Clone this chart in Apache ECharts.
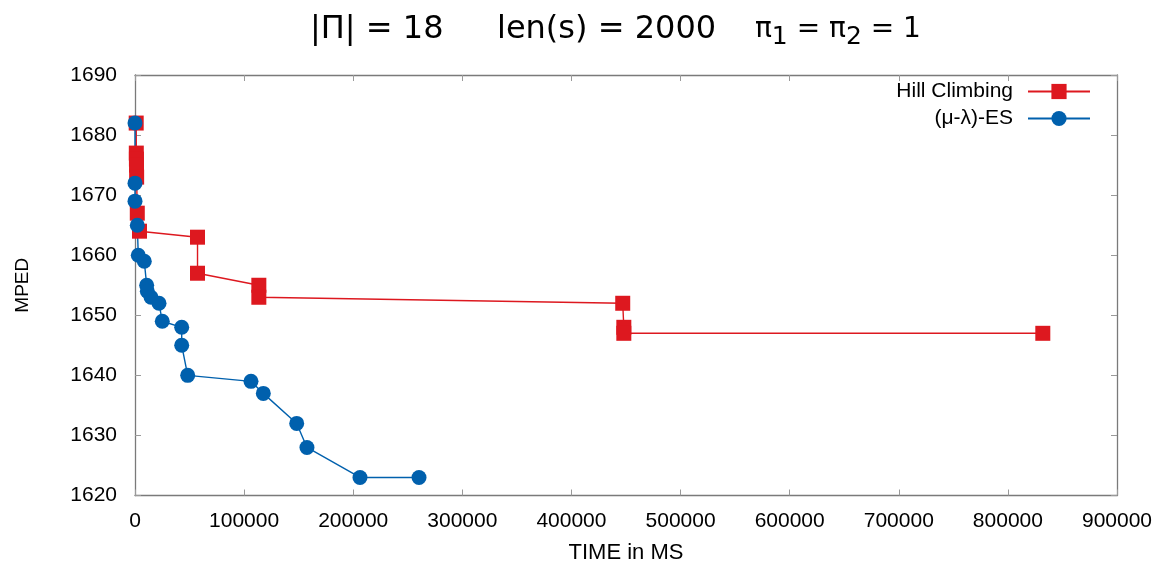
<!DOCTYPE html>
<html>
<head>
<meta charset="utf-8">
<script src="https://cdn.jsdelivr.net/npm/echarts@6/dist/echarts.min.js"></script>
<style>
  html, body { margin: 0; padding: 0; background: #ffffff; }
  #chart { width: 1160px; height: 564px; }
</style>
</head>
<body>
<div id="chart"></div>
<script>
// Hill Climbing: elapsed time (ms) and MPED of each improvement
const hillTime = [1100, 1200, 1300, 1400, 1500, 2100, 4100, 57300, 57300, 113500, 113500, 447000, 448000, 448000, 832000];
const hillMped = [1682, 1677, 1676, 1675, 1673, 1667, 1664, 1663, 1657, 1655, 1653, 1652, 1648, 1647, 1647];

// (mu-lambda)-ES: elapsed time (ms) and MPED of each improvement
const esTime = [0, 0, 0, 2100, 3000, 8500, 10700, 11300, 14700, 22000, 25000, 42800, 42800, 48300, 106300, 117600, 148200, 157600, 206200, 260300];
const esMped = [1682, 1672, 1669, 1665, 1660, 1659, 1655, 1654, 1653, 1652, 1649, 1648, 1645, 1640, 1639, 1637, 1632, 1628, 1623, 1623];

// Axis ranges and tick steps
const xRange = [0, 900000], xStep = 100000;
const yRange = [1620, 1690], yStep = 10;

const seriesNames = ['Hill Climbing', '(\u03bc-\u03bb)-ES'];
const xTitle = 'TIME in MS';
const yTitle = 'MPED';

const pairs = (xs, ys) => xs.map((x, i) => [x, ys[i]]);
const plain = v => String(v);

const frameColor = '#7a7a7a';
const tickColor = '#9a9a9a';
const labelFont = { color: '#000', fontSize: 21, fontFamily: 'Liberation Sans, Arial, sans-serif' };
const titleFont = { fontWeight: 'normal', fontFamily: 'DejaVu Sans, sans-serif', color: '#000', lineHeight: 42 };

const chart = echarts.init(document.getElementById('chart'), null, { renderer: 'canvas' });

const baseX = {
  type: 'value', min: xRange[0], max: xRange[1], interval: xStep,
  splitLine: { show: false },
  axisLine: { show: true, onZero: false, lineStyle: { color: frameColor, width: 1.3 } },
  axisTick: { show: true, inside: true, length: 6, lineStyle: { color: tickColor } }
};
const baseY = {
  type: 'value', min: yRange[0], max: yRange[1], interval: yStep,
  splitLine: { show: false },
  axisLine: { show: true, onZero: false, lineStyle: { color: frameColor, width: 1.3 } },
  axisTick: { show: true, inside: true, length: 6, lineStyle: { color: tickColor } }
};

chart.setOption({
  animation: false,
  backgroundColor: '#ffffff',
  title: {
    // three title parts, each given its own slot width
    text: '{p|\u007c\u03a0\u007c = 18}{q|len(s) = 2000}{a|\u03c0}{s|1}{a| = \u03c0}{s|2}{a| = 1}',
    left: 310,
    top: 9,
    padding: 0,
    textAlign: 'left',
    textStyle: {
      fontWeight: 'normal',
      rich: {
        p: Object.assign({ fontSize: 32, width: 187 }, titleFont),
        q: Object.assign({ fontSize: 32, width: 258 }, titleFont),
        a: Object.assign({ fontSize: 28 }, titleFont),
        s: Object.assign({ fontSize: 25, padding: [15, 0, 0, 0] }, titleFont)
      }
    }
  },
  legend: {
    data: seriesNames,
    orient: 'vertical',
    right: 64,
    top: 76,
    align: 'right',
    itemWidth: 62,
    itemHeight: 19,
    itemGap: 6,
    textStyle: Object.assign({}, labelFont, { padding: [0, 10, 0, 0] })
  },
  grid: { left: 135, right: 43, top: 75, bottom: 68.5, containLabel: false, outerBoundsMode: 'none' },
  xAxis: [
    Object.assign({}, baseX, {
      position: 'bottom',
      axisLabel: Object.assign({}, labelFont, { margin: 15, formatter: plain }),
      name: xTitle, nameLocation: 'middle', nameGap: 46,
      nameTextStyle: Object.assign({}, labelFont, { fontSize: 22 })
    }),
    Object.assign({}, baseX, { position: 'top', axisLabel: { show: false } })
  ],
  yAxis: [
    Object.assign({}, baseY, {
      position: 'left',
      axisLabel: Object.assign({}, labelFont, { margin: 18, formatter: plain }),
      name: yTitle, nameLocation: 'middle', nameGap: 103,
      nameTextStyle: Object.assign({}, labelFont, { fontSize: 19 })
    }),
    Object.assign({}, baseY, { position: 'right', axisLabel: { show: false } })
  ],
  series: [
    {
      name: seriesNames[0], type: 'line', xAxisIndex: 0, yAxisIndex: 0,
      data: pairs(hillTime, hillMped),
      symbol: 'rect', symbolSize: 15, showAllSymbol: true, clip: false,
      lineStyle: { color: '#dd181f', width: 1.4 },
      itemStyle: { color: '#dd181f' }
    },
    {
      name: seriesNames[1], type: 'line', xAxisIndex: 0, yAxisIndex: 0,
      data: pairs(esTime, esMped),
      symbol: 'circle', symbolSize: 15, showAllSymbol: true, clip: false,
      lineStyle: { color: '#0060ad', width: 1.4 },
      itemStyle: { color: '#0060ad' }
    }
  ]
});
</script>
</body>
</html>
